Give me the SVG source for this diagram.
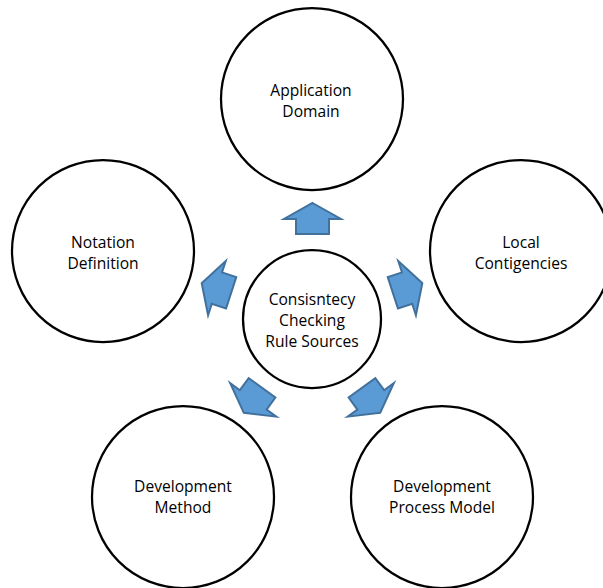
<svg xmlns="http://www.w3.org/2000/svg" xmlns:xlink="http://www.w3.org/1999/xlink" width="603" height="588" viewBox="0 0 603 588">
<style>
.node circle{fill:#fff;stroke:#000;stroke-width:2.25}
.node text{font-family:"Open Sans","Noto Sans","Liberation Sans",sans-serif;font-size:15.6px;fill:#000;text-anchor:middle}
.arrow{fill:#5B9BD5;stroke:#41719C;stroke-width:2;stroke-linejoin:miter}
</style>
<defs>
<path id="arr" class="arrow" d="M0,-116 L28.5,-100 L16.5,-100 L16.5,-85 L-16.5,-85 L-16.5,-100 L-28.5,-100 Z"/>
</defs>
<rect width="603" height="588" fill="#fff"/>
<g id="connectors">
<use xlink:href="#arr" transform="translate(312.5,319)"/>
<use xlink:href="#arr" transform="translate(312,319) rotate(-72)"/>
<use xlink:href="#arr" transform="translate(312,319) rotate(72)"/>
<use xlink:href="#arr" transform="translate(312,319) rotate(-144)"/>
<use xlink:href="#arr" transform="translate(312,319) rotate(144)"/>
</g>
<g id="center" class="node">
<circle cx="312" cy="319" r="69"/>
<text x="312" y="305">Consisntecy</text>
<text x="312" y="326">Checking</text>
<text x="312" y="347">Rule Sources</text>
</g>
<g id="application-domain" class="node">
<circle cx="312" cy="99" r="91"/>
<text x="311" y="95.5">Application</text>
<text x="311" y="116.5">Domain</text>
</g>
<g id="notation-definition" class="node">
<circle cx="103" cy="251" r="91"/>
<text x="103" y="247.5">Notation</text>
<text x="103" y="268.5">Definition</text>
</g>
<g id="local-contigencies" class="node">
<circle cx="521" cy="251" r="91"/>
<text x="521" y="247.5">Local</text>
<text x="521" y="268.5">Contigencies</text>
</g>
<g id="development-method" class="node">
<circle cx="183" cy="497" r="91"/>
<text x="183" y="492">Development</text>
<text x="183" y="513">Method</text>
</g>
<g id="development-process-model" class="node">
<circle cx="442" cy="497" r="91"/>
<text x="442" y="492">Development</text>
<text x="442" y="513">Process Model</text>
</g>
</svg>
